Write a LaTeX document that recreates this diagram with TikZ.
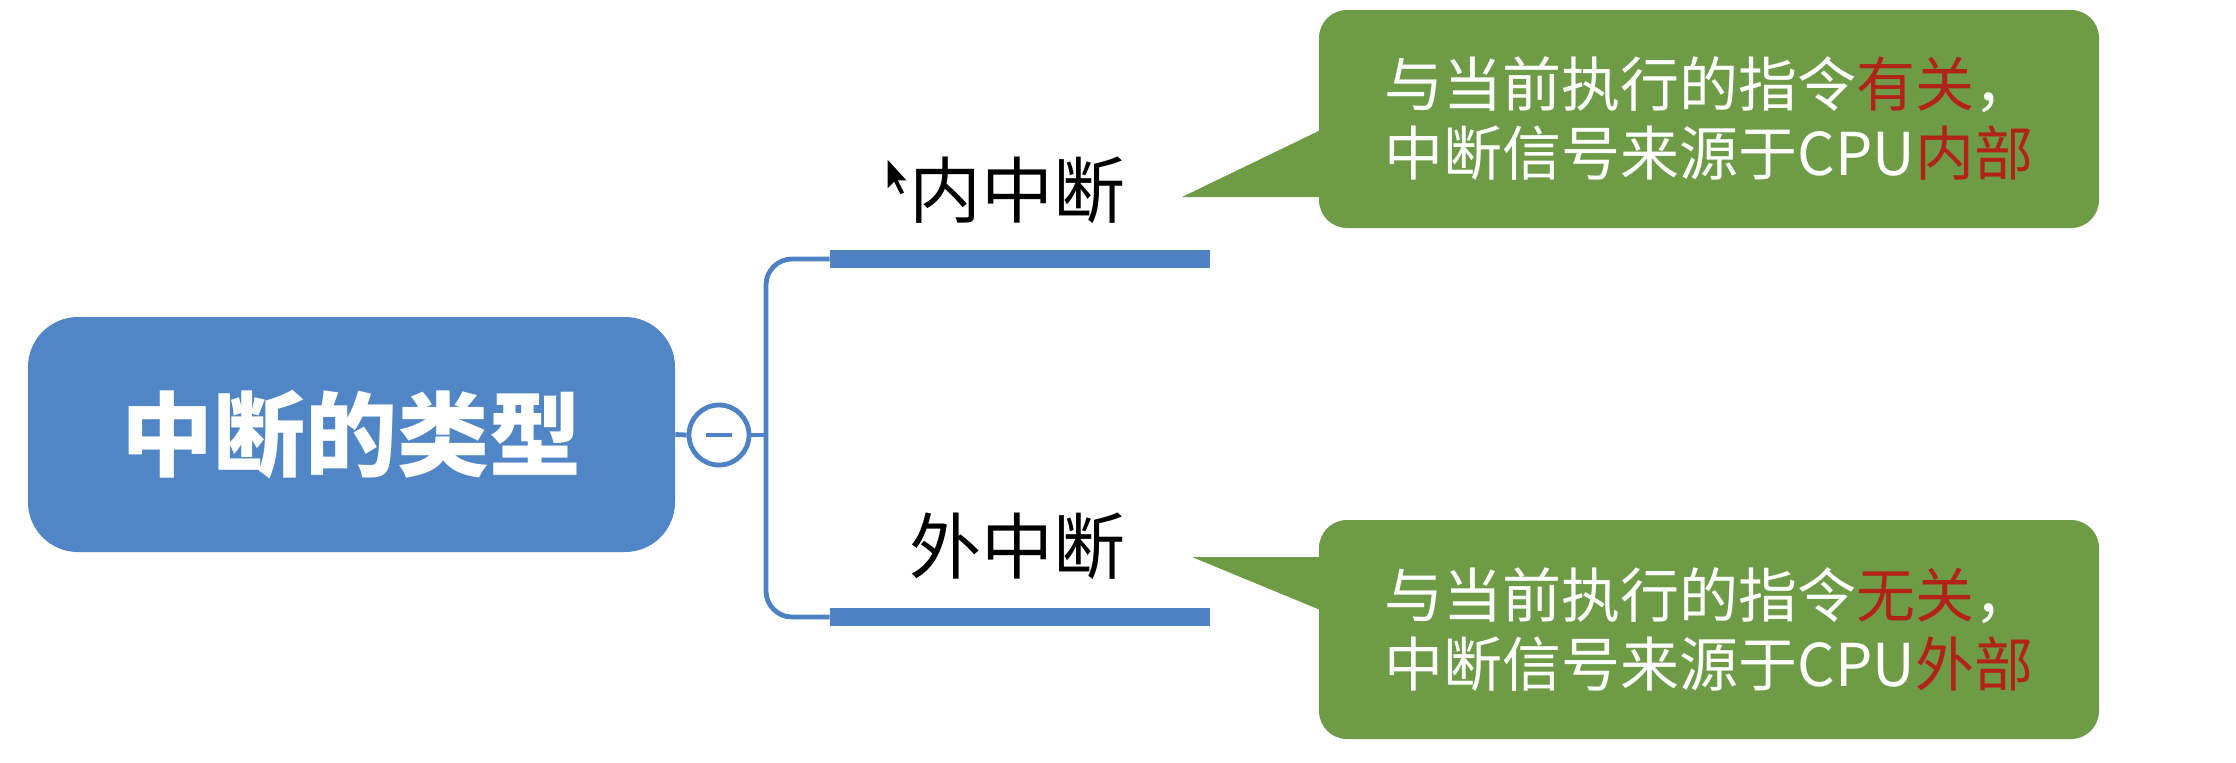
\documentclass[tikz,border=0pt]{standalone}
\usepackage{fontspec}
\setmainfont{Noto Sans CJK SC}
\definecolor{rootblue}{RGB}{80,134,198}
\definecolor{linkblue}{RGB}{78,130,196}
\definecolor{callgreen}{RGB}{110,155,70}
\definecolor{hotred}{RGB}{178,34,22}
\begin{document}
\begin{tikzpicture}[x=0.5pt,y=-0.5pt,
  rootbox/.style={rectangle, rounded corners=25pt, fill=rootblue, text=white,
    minimum width=323.5pt, minimum height=117.5pt, inner sep=0pt,
    font=\fontsize{46pt}{55pt}\selectfont\bfseries},
  togglebox/.style={circle, draw=linkblue, line width=2.4pt, fill=white,
    minimum size=30pt, inner sep=0pt},
  link/.style={draw=linkblue, line width=2.4pt},
  barbox/.style={rectangle, fill=linkblue, minimum width=190pt, minimum height=9pt, inner sep=0pt},
  branchlabel/.style={text=black, inner sep=0pt, font=\fontsize{36pt}{43pt}\selectfont},
  callout/.style={rectangle, rounded corners=14pt, fill=callgreen, text=white,
    minimum width=390pt, minimum height=109pt, inner sep=0pt, align=center,
    font=\fontsize{29.5pt}{34.5pt}\selectfont},
]
\useasboundingbox (0,0) rectangle (2236,762);
\fill[white] (0,0) rectangle (2236,762);

% root
\node[rootbox] (root) at (351.5,434.5) {中断的类型};
\node[togglebox] (toggle) at (719,435) {};
\draw[linkblue, line width=2pt] ([xshift=-6.5pt]toggle.center) -- ([xshift=6.5pt]toggle.center);
\coordinate (fork) at (766,435);

% branches
\node[barbox] (barin) at (1020,259) {};
\node[barbox] (barout) at (1020,617) {};
\node[branchlabel] (inner) at (1017,190) {内中断};
\node[branchlabel] (outer) at (1017,546) {外中断};

\draw[link] (root.east) -- (toggle.west);
\draw[link] (toggle.east) -- (fork);
\draw[link, rounded corners=13pt] (fork) |- (barin.west);
\draw[link, rounded corners=13pt] (fork) |- (barout.west);

% callouts
\coordinate (tipin) at (1182,197);
\coordinate (tipout) at (1192,557);
\fill[callgreen] (tipin) -- (1330,125.5) -- (1330,197) -- cycle;
\fill[callgreen] (tipout) -- (1330,557) -- (1330,614) -- cycle;
\node[callout] (notein) at (1709,119)
  {与当前执行的指令\textcolor{hotred}{有关}，\\中断信号来源于CPU\textcolor{hotred}{内部}};
\node[callout, minimum height=109.5pt] (noteout) at (1709,629.5)
  {与当前执行的指令\textcolor{hotred}{无关}，\\中断信号来源于CPU\textcolor{hotred}{外部}};

% mouse cursor
\filldraw[fill=black, draw=white, line width=0.6pt]
  (887,158) -- (887,190) -- (894,183) -- (900,195) -- (905,193) -- (899,181) -- (908,181) -- cycle;
\end{tikzpicture}
\end{document}
